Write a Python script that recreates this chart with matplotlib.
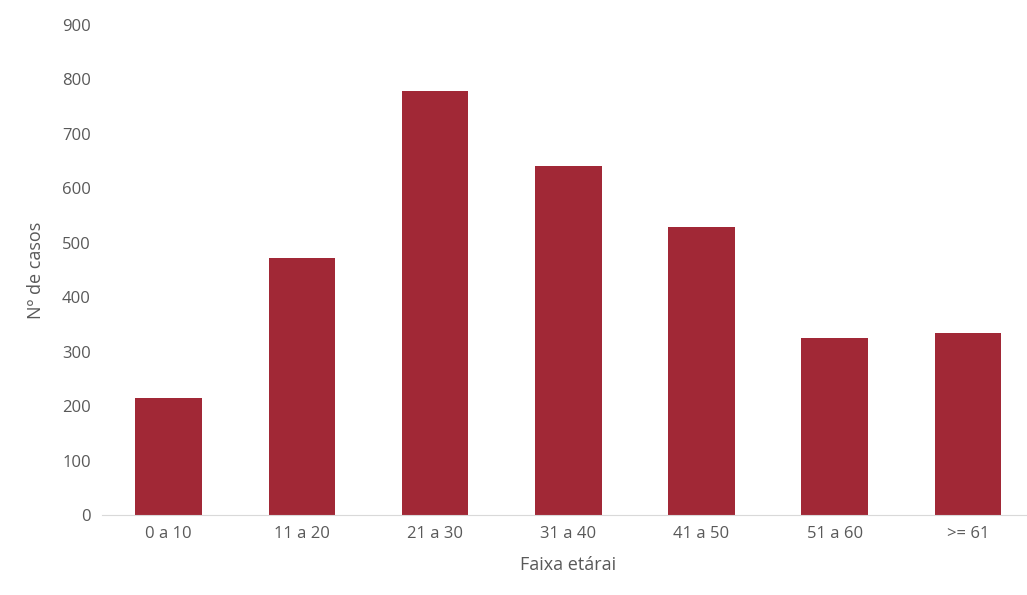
import matplotlib
matplotlib.use("Agg")
import matplotlib.pyplot as plt

faixas = ["0 a 10", "11 a 20", "21 a 30", "31 a 40", "41 a 50", "51 a 60", ">= 61"]
casos = [215, 472, 779, 641, 529, 325, 334]

plt.rcParams['font.family'] = ['Open Sans', 'DejaVu Sans']
txt = "#595959"

fig = plt.figure(figsize=(10.27, 5.95), dpi=100)
ax = fig.add_axes([0.0993, 0.134, 0.908, 0.824])
ax.bar(range(len(faixas)), casos, width=0.5, color="#A12836")
ax.set_xlim(-0.5, len(faixas) - 0.5)
ax.set_ylim(0, 900)
ax.set_yticks(range(0, 901, 100))
ax.set_xticks(range(len(faixas)))
ax.set_xticklabels(faixas)
for s in ["top", "right", "left"]:
    ax.spines[s].set_visible(False)
ax.spines["bottom"].set_color("#d9d9d9")
ax.tick_params(length=0, colors=txt, labelsize=12, pad=8)
ax.set_xlabel("Faixa etárai", color=txt, fontsize=13, labelpad=10)
ax.set_ylabel("Nº de casos", color=txt, fontsize=13, labelpad=12)
fig.savefig("out.png")
